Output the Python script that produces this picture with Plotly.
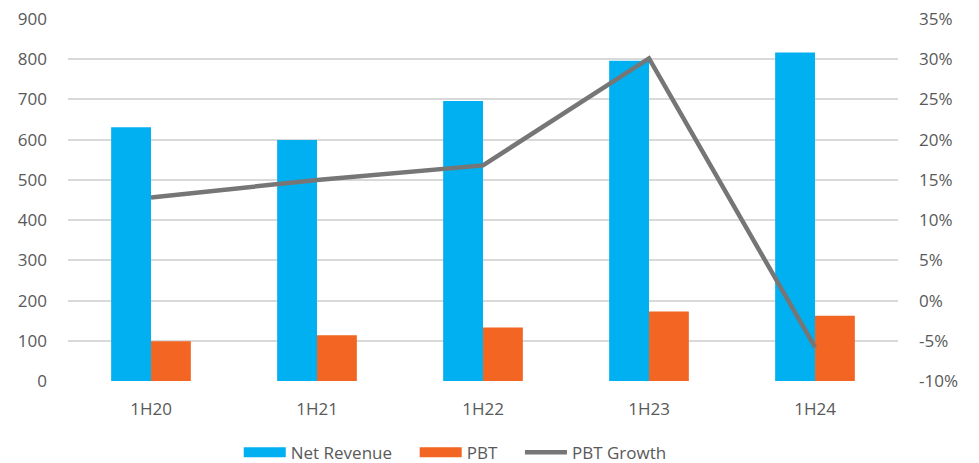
import plotly.graph_objects as go

categories = ["1H20", "1H21", "1H22", "1H23", "1H24"]
net_revenue = [631, 599, 696, 796, 817]
pbt = [99, 114, 133, 173, 162]
pbt_growth = [12.8, 15.0, 16.8, 30.1, -5.8]

left_ticks = list(range(0, 901, 100))
right_ticks = list(range(-10, 36, 5))

BLUE = "#00B0F0"
ORANGE = "#F26522"
GREY = "#767676"
TXT = "#595959"
FONT = "Open Sans"
NB = "\u00a0"

fig = go.Figure()
fig.add_trace(go.Bar(x=categories, y=net_revenue, name="Net Revenue",
                     marker=dict(color=BLUE, line=dict(width=0)), showlegend=False))
fig.add_trace(go.Bar(x=categories, y=pbt, name="PBT",
                     marker=dict(color=ORANGE, line=dict(width=0)), showlegend=False))
fig.add_trace(go.Scatter(x=categories, y=pbt_growth, name="PBT Growth", yaxis="y2",
                         mode="lines", line=dict(color=GREY, width=4.5), showlegend=False))
# legend entries (wide swatches like the original)
fig.add_trace(go.Scatter(x=[None], y=[None], name="Net Revenue" + NB * 4, mode="lines",
                         line=dict(color=BLUE, width=10)))
fig.add_trace(go.Scatter(x=[None], y=[None], name="PBT" + NB * 4, mode="lines",
                         line=dict(color=ORANGE, width=10)))
fig.add_trace(go.Scatter(x=[None], y=[None], name="PBT Growth", mode="lines", yaxis="y2",
                         line=dict(color=GREY, width=4.5)))

fig.update_layout(
    width=979, height=463,
    margin=dict(l=68, r=81, t=19, b=82, autoexpand=False),
    paper_bgcolor="white", plot_bgcolor="white",
    barmode="group", bargap=0.52, bargroupgap=0,
    font=dict(family=FONT, size=16, color=TXT),
    xaxis=dict(type="category", showgrid=False, showline=False, zeroline=False,
               automargin=False,
               ticks="", ticklabelstandoff=16, tickfont=dict(size=17, color=TXT)),
    yaxis=dict(range=[0, 900], tickvals=left_ticks, showgrid=True, automargin=False,
               gridcolor="#D9D9D9", gridwidth=1.5, zeroline=False, showline=False,
               ticks="", ticklabelstandoff=20, tickfont=dict(size=17, color=TXT)),
    yaxis2=dict(range=[-10, 35], tickvals=right_ticks, automargin=False,
                ticktext=[f"{v}%" for v in right_ticks],
                overlaying="y", side="right", showgrid=False, zeroline=False,
                showline=False, ticks="", ticklabelstandoff=20,
                tickfont=dict(size=17, color=TXT)),
    legend=dict(orientation="h", x=0.465, xanchor="center", xref="container",
                y=0.022, yanchor="middle", yref="container",
                font=dict(size=17, color=TXT), itemwidth=42,
                traceorder="normal", bgcolor="rgba(0,0,0,0)"),
)

fig.write_html("out.html")
